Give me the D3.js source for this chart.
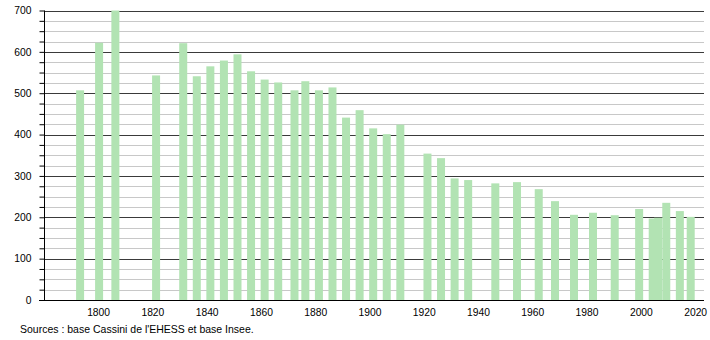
<!DOCTYPE html>
<html>
<head>
<meta charset="utf-8">
<script src="https://cdn.jsdelivr.net/npm/d3@7"></script>
<style>
  body { margin: 0; background: #fff; }
  text { font-family: "Liberation Sans", Arial, sans-serif; }
</style>
</head>
<body>
<div id="chart"></div>
<script>
// Population by census year
const years = [1793, 1800, 1806, 1821, 1831, 1836, 1841, 1846, 1851, 1856, 1861, 1866,
  1872, 1876, 1881, 1886, 1891, 1896, 1901, 1906, 1911, 1921, 1926, 1931, 1936,
  1946, 1954, 1962, 1968, 1975, 1982, 1990, 1999, 2004, 2006, 2009, 2014, 2018];
const population = [507, 622, 700, 543, 621, 541, 565, 579, 594, 553, 533, 526,
  507, 529, 507, 514, 441, 459, 415, 401, 424, 354, 343, 294, 290,
  282, 285, 268, 239, 206, 211, 205, 220, 197, 199, 235, 215, 201];
const xTickLabels = [1800, 1820, 1840, 1860, 1880, 1900, 1920, 1940, 1960, 1980, 2000, 2020];
const yTickLabels = [0, 100, 200, 300, 400, 500, 600, 700];
const sourceText = "Sources : base Cassini de l'EHESS et base Insee.";

{
    const width = 710, height = 340;
    const left = 44, right = 704, top = 10.5, bottom = 300;
    const barWidth = 8;

    const svg = d3.select("#chart")
        .append("svg")
        .attr("width", width)
        .attr("height", height);

    // Scales
    const x = d3.scaleLinear().domain([1779.7, 2022.9]).range([left, right]);
    const y = d3.scaleLinear().domain([0, 700]).range([bottom, top]);

    // Grid lines: minor every 25, major every 100
    const gridVals = d3.range(25, 701, 25);
    svg.append("g")
        .selectAll("line")
        .data(gridVals)
        .enter()
        .append("line")
        .attr("x1", left)
        .attr("x2", right)
        .attr("y1", d => Math.round(y(d)) + 0.5)
        .attr("y2", d => Math.round(y(d)) + 0.5)
        .attr("stroke", d => d % 100 === 0 ? "#3a3a3a" : "#c8c8c8")
        .attr("stroke-width", 1);

    // Bars
    svg.append("g")
        .selectAll("rect")
        .data(years.map((yr, i) => ({ year: yr, value: population[i] })))
        .enter()
        .append("rect")
        .attr("x", d => x(d.year) - barWidth / 2)
        .attr("y", d => y(d.value))
        .attr("width", barWidth)
        .attr("height", d => y(0) - y(d.value))
        .attr("fill", "#b2e3b3");

    // Y axis with minor ticks
    const yAxis = svg.append("g")
        .attr("transform", `translate(${left + 0.5},0)`)
        .call(d3.axisLeft(y)
            .tickValues(d3.range(0, 701, 25))
            .tickSize(5)
            .tickFormat(d => yTickLabels.includes(d) ? d : ""));
    yAxis.select(".domain").attr("stroke", "#000").attr("d", `M0,${top}V${bottom}`);
    yAxis.selectAll(".tick line").attr("stroke", "#000");
    yAxis.selectAll(".tick text")
        .attr("x", -13)
        .attr("font-size", "10.3px")
        .attr("font-family", "Liberation Sans, Arial, sans-serif")
        .attr("fill", "#000");

    // X axis: baseline and labels only
    const xAxis = svg.append("g")
        .attr("transform", `translate(0,${bottom + 0.5})`)
        .call(d3.axisBottom(x)
            .tickValues(xTickLabels)
            .tickSize(0)
            .tickFormat(d3.format("d")));
    xAxis.select(".domain").attr("stroke", "#000").attr("d", `M${left - 5},0H${right}`);
    xAxis.selectAll(".tick text")
        .attr("y", 8)
        .attr("dx", -1)
        .attr("font-size", "10.3px")
        .attr("font-family", "Liberation Sans, Arial, sans-serif")
        .attr("fill", "#000");

    // Source note
    svg.append("text")
        .attr("x", 20)
        .attr("y", 333)
        .attr("font-size", "10.5px")
        .attr("fill", "#000")
        .text(sourceText);
}
</script>
</body>
</html>
